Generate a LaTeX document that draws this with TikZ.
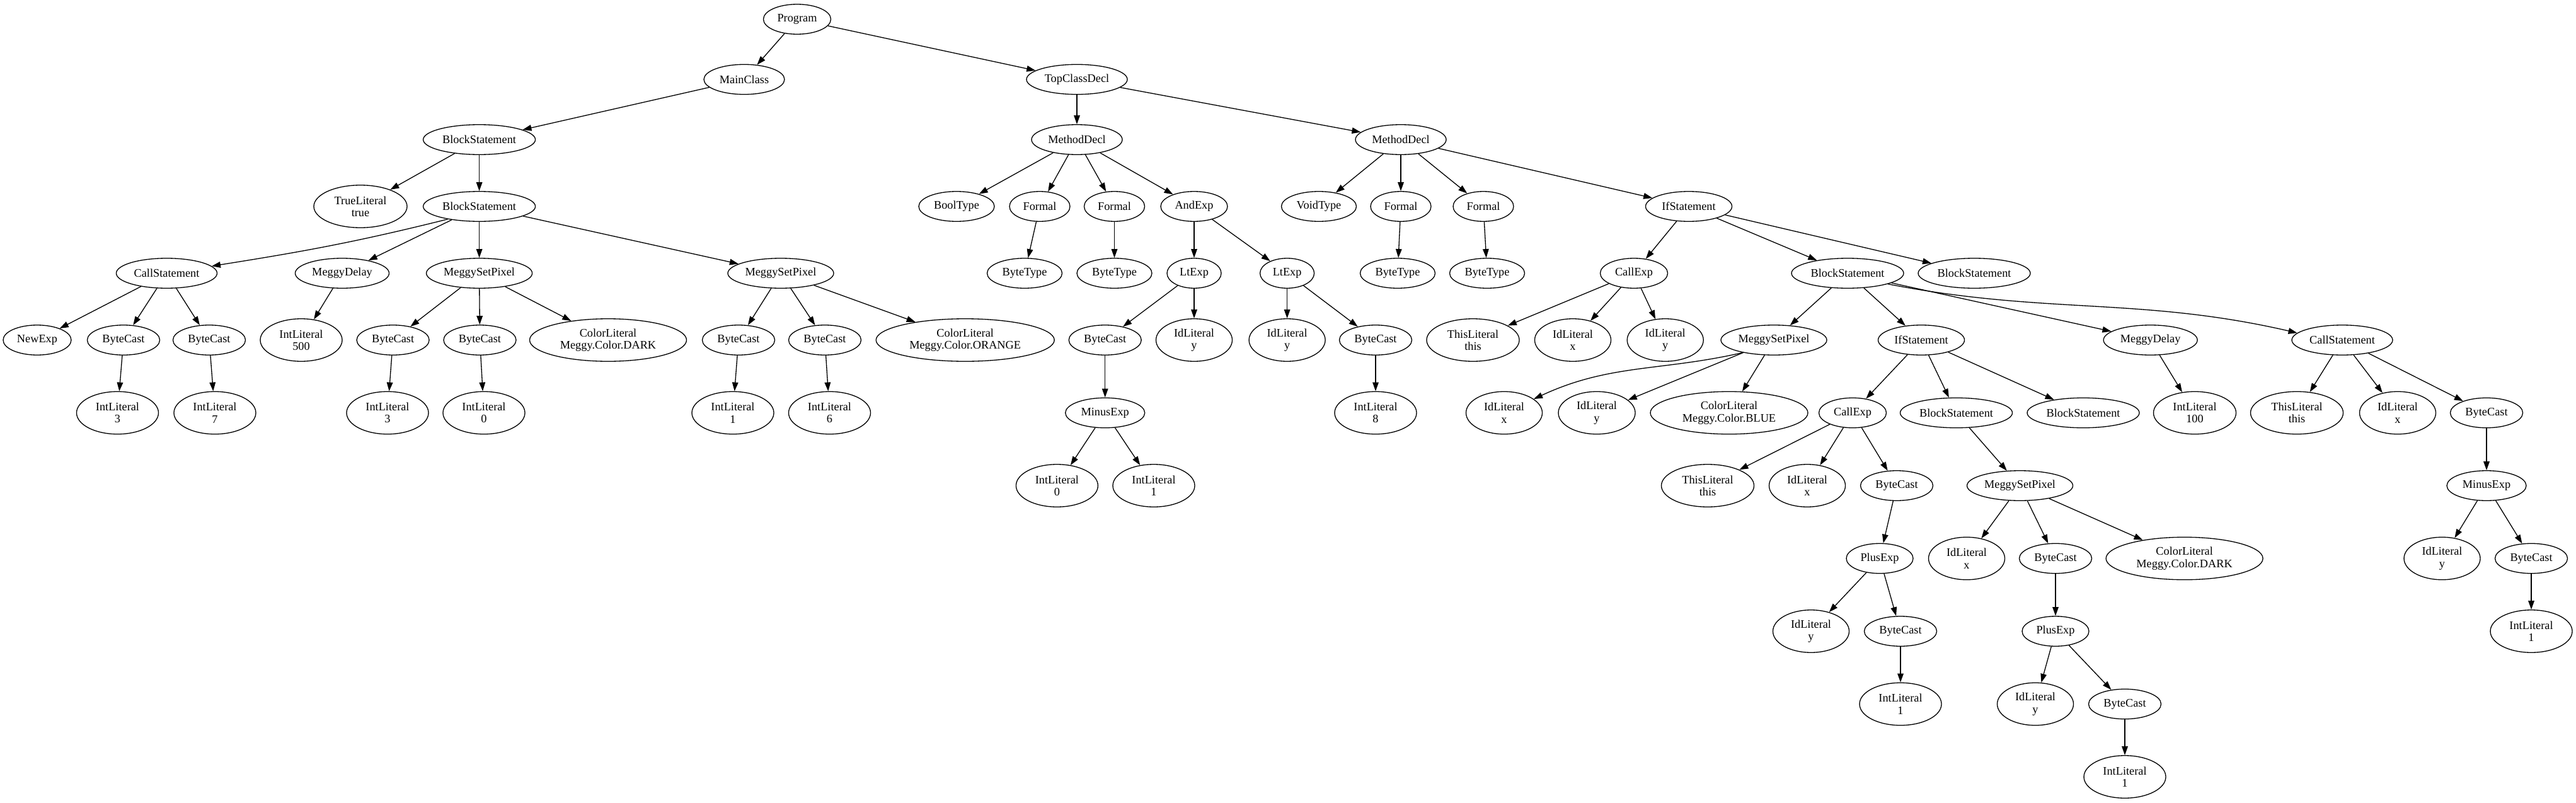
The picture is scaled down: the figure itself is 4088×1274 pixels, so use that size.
\documentclass[tikz,border=0pt]{standalone}
\usepackage{fontspec}
\setmainfont{Liberation Serif}
\usetikzlibrary{shapes.geometric,arrows.meta}
\newcommand\gvfont{\fontsize{18.3}{19.3}\selectfont}
\begin{document}
\begin{tikzpicture}[x=1pt,y=-1pt,
  nd/.style={ellipse, draw, line width=1.32pt, inner sep=0pt, minimum height=47.5pt, align=center, font=\gvfont},
  nt/.style={nd, minimum height=67.5pt},
  ed/.style={-{Triangle[length=14pt,width=9.6pt]}, line width=1.32pt}]
\fill[white] (0,0) rectangle (4088,1274);
\path[use as bounding box] (0,0) rectangle (4088,1274);
% rank 0-2
\node[nd, minimum width=107pt] (n0) at (1265,30.5) {Program};
\node[nd, minimum width=128pt] (n1) at (1181,126) {MainClass};
\node[nd, minimum width=160pt] (n2) at (1709,126) {TopClassDecl};
\node[nd, minimum width=178pt] (n3) at (760.6,221.5) {BlockStatement};
\node[nd, minimum width=144pt] (n4) at (1709,221.5) {MethodDecl};
\node[nd, minimum width=144pt] (n5) at (2223,221.5) {MethodDecl};
% rank 3
\node[nt, minimum width=148pt] (n6) at (572,327.5) {TrueLiteral\\true};
\node[nd, minimum width=178pt] (n7) at (760.6,327.5) {BlockStatement};
\node[nd, minimum width=120pt] (n8) at (1518,327.5) {BoolType};
\node[nd, minimum width=96pt] (n9) at (1650,327.5) {Formal};
\node[nd, minimum width=96pt] (n10) at (1768.5,327.5) {Formal};
\node[nd, minimum width=106pt] (n11) at (1895,327.5) {AndExp};
\node[nd, minimum width=119pt] (n12) at (2093,327.5) {VoidType};
\node[nd, minimum width=96pt] (n13) at (2223,327.5) {Formal};
\node[nd, minimum width=96pt] (n14) at (2354,327.5) {Formal};
\node[nd, minimum width=137pt] (n15) at (2680,327.5) {IfStatement};
% rank 4
\node[nd, minimum width=160pt] (n16) at (264.5,433.5) {CallStatement};
\node[nd, minimum width=149pt] (n17) at (543,433.5) {MeggyDelay};
\node[nd, minimum width=168pt] (n18) at (760.6,433.5) {MeggySetPixel};
\node[nd, minimum width=168pt] (n19) at (1239,433.5) {MeggySetPixel};
\node[nd, minimum width=119pt] (n20) at (1626,433.5) {ByteType};
\node[nd, minimum width=119pt] (n21) at (1768.5,433.5) {ByteType};
\node[nd, minimum width=86pt] (n22) at (1895,433.5) {LtExp};
\node[nd, minimum width=86pt] (n23) at (2042.6,433.5) {LtExp};
\node[nd, minimum width=119pt] (n24) at (2218,433.5) {ByteType};
\node[nd, minimum width=119pt] (n25) at (2360,433.5) {ByteType};
\node[nd, minimum width=107pt] (n26) at (2593,433.5) {CallExp};
\node[nd, minimum width=178pt] (n27) at (2932,433.5) {BlockStatement};
\node[nd, minimum width=178pt] (n28) at (3133,433.5) {BlockStatement};
% rank 5
\node[nd, minimum width=108pt] (n29) at (59,539.5) {NewExp};
\node[nd, minimum width=115pt] (n30) at (196,539.5) {ByteCast};
\node[nd, minimum width=115pt] (n31) at (332,539.5) {ByteCast};
\node[nt, minimum width=130pt] (n32) at (478,539.5) {IntLiteral\\500};
\node[nd, minimum width=115pt] (n33) at (623.6,539.5) {ByteCast};
\node[nd, minimum width=115pt] (n34) at (761.5,539.5) {ByteCast};
\node[nt, minimum width=249pt] (n35) at (965,539.5) {ColorLiteral\\Meggy.Color.DARK};
\node[nd, minimum width=115pt] (n36) at (1172,539.5) {ByteCast};
\node[nd, minimum width=115pt] (n37) at (1309,539.5) {ByteCast};
\node[nt, minimum width=283pt] (n38) at (1531.7,539.5) {ColorLiteral\\Meggy.Color.ORANGE};
\node[nd, minimum width=115pt] (n39) at (1753.7,539.5) {ByteCast};
\node[nt, minimum width=121pt] (n40) at (1895,539.5) {IdLiteral\\y};
\node[nt, minimum width=121pt] (n41) at (2042.6,539.5) {IdLiteral\\y};
\node[nd, minimum width=115pt] (n42) at (2183,539.5) {ByteCast};
\node[nt, minimum width=147pt] (n43) at (2337.5,539.5) {ThisLiteral\\this};
\node[nt, minimum width=121pt] (n44) at (2496,539.5) {IdLiteral\\x};
\node[nt, minimum width=121pt] (n45) at (2642.7,539.5) {IdLiteral\\y};
\node[nd, minimum width=168pt] (n46) at (2815,539.5) {MeggySetPixel};
\node[nd, minimum width=137pt] (n47) at (3049,539.5) {IfStatement};
\node[nd, minimum width=149pt] (n48) at (3412.6,539.5) {MeggyDelay};
\node[nd, minimum width=160pt] (n49) at (3717,539.5) {CallStatement};
% rank 6
\node[nt, minimum width=130pt] (n50) at (186.5,655) {IntLiteral\\3};
\node[nt, minimum width=130pt] (n51) at (341,655) {IntLiteral\\7};
\node[nt, minimum width=130pt] (n52) at (615,655) {IntLiteral\\3};
\node[nt, minimum width=130pt] (n53) at (768,655) {IntLiteral\\0};
\node[nt, minimum width=130pt] (n54) at (1163,655) {IntLiteral\\1};
\node[nt, minimum width=130pt] (n55) at (1316.5,655) {IntLiteral\\6};
\node[nd, minimum width=126pt] (n56) at (1753.7,655) {MinusExp};
\node[nt, minimum width=130pt] (n57) at (2183,655) {IntLiteral\\8};
\node[nt, minimum width=121pt] (n58) at (2387,655) {IdLiteral\\x};
\node[nt, minimum width=122pt] (n59) at (2534,655) {IdLiteral\\y};
\node[nt, minimum width=250pt] (n60) at (2744,655) {ColorLiteral\\Meggy.Color.BLUE};
\node[nd, minimum width=107pt] (n61) at (2940,655) {CallExp};
\node[nd, minimum width=178pt] (n62) at (3104.5,655) {BlockStatement};
\node[nd, minimum width=178pt] (n63) at (3306,655) {BlockStatement};
\node[nt, minimum width=131pt] (n64) at (3483,655) {IntLiteral\\100};
\node[nt, minimum width=147pt] (n65) at (3645,655) {ThisLiteral\\this};
\node[nt, minimum width=121pt] (n66) at (3805,655) {IdLiteral\\x};
\node[nd, minimum width=115pt] (n67) at (3946,655) {ByteCast};
% rank 7
\node[nt, minimum width=130pt] (n68) at (1677.4,770.5) {IntLiteral\\0};
\node[nt, minimum width=130pt] (n69) at (1831,770.5) {IntLiteral\\1};
\node[nt, minimum width=147pt] (n70) at (2710,770.5) {ThisLiteral\\this};
\node[nt, minimum width=121pt] (n71) at (2868,770.5) {IdLiteral\\x};
\node[nd, minimum width=115pt] (n72) at (3010,770.5) {ByteCast};
\node[nd, minimum width=168pt] (n73) at (3205.5,770.5) {MeggySetPixel};
\node[nd, minimum width=126pt] (n74) at (3946,770.5) {MinusExp};
% rank 8
\node[nd, minimum width=106pt] (n75) at (2983,886) {PlusExp};
\node[nt, minimum width=121pt] (n76) at (3121,886) {IdLiteral\\x};
\node[nd, minimum width=115pt] (n77) at (3262,886) {ByteCast};
\node[nt, minimum width=249pt] (n78) at (3466.6,886) {ColorLiteral\\Meggy.Color.DARK};
\node[nt, minimum width=121pt] (n79) at (3875.5,886) {IdLiteral\\y};
\node[nd, minimum width=115pt] (n80) at (4017,886) {ByteCast};
% rank 9
\node[nt, minimum width=121pt] (n81) at (2874,1001.5) {IdLiteral\\y};
\node[nd, minimum width=115pt] (n82) at (3016,1001.5) {ByteCast};
\node[nd, minimum width=106pt] (n83) at (3262,1001.5) {PlusExp};
\node[nt, minimum width=130pt] (n84) at (4017,1001.5) {IntLiteral\\1};
% rank 10
\node[nt, minimum width=130pt] (n85) at (3016,1117) {IntLiteral\\1};
\node[nt, minimum width=121pt] (n86) at (3230,1117) {IdLiteral\\y};
\node[nd, minimum width=115pt] (n87) at (3372,1117) {ByteCast};
% rank 11
\node[nt, minimum width=130pt] (n88) at (3372,1232.5) {IntLiteral\\1};
% edges
\draw[ed] (n0) -- (n1);
\draw[ed] (n0) -- (n2);
\draw[ed] (n1) -- (n3);
\draw[ed] (n2) -- (n4);
\draw[ed] (n2) -- (n5);
\draw[ed] (n3) -- (n6);
\draw[ed] (n3) -- (n7);
\draw[ed] (n7.202) to[out=194,in=9] (n16.9);
\draw[ed] (n7) -- (n17);
\draw[ed] (n7) -- (n18);
\draw[ed] (n7) -- (n19);
\draw[ed] (n16) -- (n29);
\draw[ed] (n16) -- (n30);
\draw[ed] (n16) -- (n31);
\draw[ed] (n30) -- (n50);
\draw[ed] (n31) -- (n51);
\draw[ed] (n17) -- (n32);
\draw[ed] (n18) -- (n33);
\draw[ed] (n18) -- (n34);
\draw[ed] (n18) -- (n35);
\draw[ed] (n33) -- (n52);
\draw[ed] (n34) -- (n53);
\draw[ed] (n19) -- (n36);
\draw[ed] (n19) -- (n37);
\draw[ed] (n19) -- (n38);
\draw[ed] (n36) -- (n54);
\draw[ed] (n37) -- (n55);
\draw[ed] (n4) -- (n8);
\draw[ed] (n4) -- (n9);
\draw[ed] (n4) -- (n10);
\draw[ed] (n4) -- (n11);
\draw[ed] (n9) -- (n20);
\draw[ed] (n10) -- (n21);
\draw[ed] (n11) -- (n22);
\draw[ed] (n11) -- (n23);
\draw[ed] (n22) -- (n39);
\draw[ed] (n22) -- (n40);
\draw[ed] (n39) -- (n56);
\draw[ed] (n56) -- (n68);
\draw[ed] (n56) -- (n69);
\draw[ed] (n23) -- (n41);
\draw[ed] (n23) -- (n42);
\draw[ed] (n42) -- (n57);
\draw[ed] (n5) -- (n12);
\draw[ed] (n5) -- (n13);
\draw[ed] (n5) -- (n14);
\draw[ed] (n5) -- (n15);
\draw[ed] (n13) -- (n24);
\draw[ed] (n14) -- (n25);
\draw[ed] (n15) -- (n26);
\draw[ed] (n15) -- (n27);
\draw[ed] (n15) -- (n28);
\draw[ed] (n26) -- (n43);
\draw[ed] (n26) -- (n44);
\draw[ed] (n26) -- (n45);
\draw[ed] (n27) -- (n46);
\draw[ed] (n27) -- (n47);
\draw[ed] (n27) -- (n48);
\draw[ed] (n27.345) to[out=-11,in=167] (n49.171);
\draw[ed] (n46.202) to[out=193,in=25] (n58.25);
\draw[ed] (n46) -- (n59);
\draw[ed] (n46) -- (n60);
\draw[ed] (n47) -- (n61);
\draw[ed] (n47) -- (n62);
\draw[ed] (n47) -- (n63);
\draw[ed] (n61) -- (n70);
\draw[ed] (n61) -- (n71);
\draw[ed] (n61) -- (n72);
\draw[ed] (n72) -- (n75);
\draw[ed] (n75) -- (n81);
\draw[ed] (n75) -- (n82);
\draw[ed] (n82) -- (n85);
\draw[ed] (n62) -- (n73);
\draw[ed] (n73) -- (n76);
\draw[ed] (n73) -- (n77);
\draw[ed] (n73) -- (n78);
\draw[ed] (n77) -- (n83);
\draw[ed] (n83) -- (n86);
\draw[ed] (n83) -- (n87);
\draw[ed] (n87) -- (n88);
\draw[ed] (n48) -- (n64);
\draw[ed] (n49) -- (n65);
\draw[ed] (n49) -- (n66);
\draw[ed] (n49) -- (n67);
\draw[ed] (n67) -- (n74);
\draw[ed] (n74) -- (n79);
\draw[ed] (n74) -- (n80);
\draw[ed] (n80) -- (n84);
\end{tikzpicture}
\end{document}
